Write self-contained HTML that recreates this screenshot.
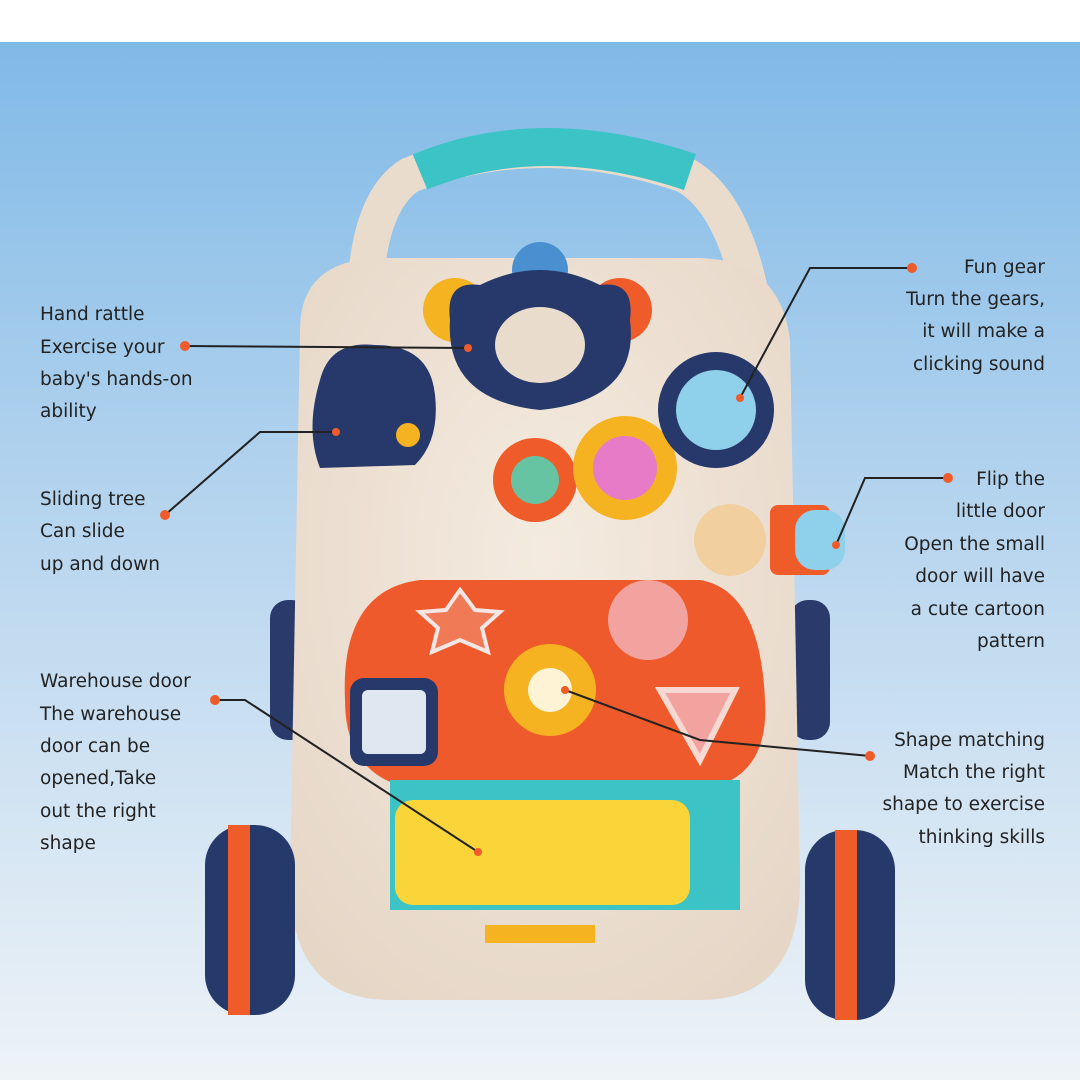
<!DOCTYPE html>
<html><head><meta charset="utf-8"><style>
html,body{margin:0;padding:0}
body{width:1080px;height:1080px;overflow:hidden;font-family:"DejaVu Sans",sans-serif}
</style></head><body>
<svg width="1080" height="1080" viewBox="0 0 1080 1080" xmlns="http://www.w3.org/2000/svg">
<defs>
<linearGradient id="bg" x1="0" y1="0" x2="0" y2="1">
<stop offset="0" stop-color="#7bb7e6"/><stop offset="0.45" stop-color="#b3d3ee"/><stop offset="1" stop-color="#eef3f7"/>
</linearGradient>
<radialGradient id="body" cx="0.5" cy="0.4" r="0.7"><stop offset="0" stop-color="#f4ebe0"/><stop offset="1" stop-color="#e6d6c6"/></radialGradient>
</defs>
<rect width="1080" height="1080" fill="url(#bg)"/>
<rect width="1080" height="42" fill="#fff"/>
<!-- handle -->
<path d="M365 290 Q370 200 410 175 Q540 125 685 175 Q730 200 750 290" fill="none" stroke="#eadccd" stroke-width="36"/>
<path d="M420 172 Q540 122 690 172" fill="none" stroke="#3cc3c6" stroke-width="38"/>
<!-- back wheels -->
<rect x="270" y="600" width="40" height="140" rx="18" fill="#2a3a6a"/>
<rect x="790" y="600" width="40" height="140" rx="18" fill="#2a3a6a"/>
<!-- body -->
<path d="M300 330 Q300 260 380 258 L700 258 Q780 260 790 340 L800 880 Q800 1000 700 1000 L390 1000 Q290 1000 290 880 Z" fill="url(#body)"/>
<!-- front wheels -->
<rect x="205" y="825" width="90" height="190" rx="40" fill="#25396b"/>
<rect x="228" y="825" width="22" height="190" fill="#f05b2a"/>
<rect x="805" y="830" width="90" height="190" rx="40" fill="#25396b"/>
<rect x="835" y="830" width="22" height="190" fill="#f05b2a"/>
<!-- top toys -->
<circle cx="455" cy="310" r="32" fill="#f5b321"/>
<circle cx="620" cy="310" r="32" fill="#f05b2a"/>
<circle cx="540" cy="270" r="28" fill="#4a8fcf"/>
<path d="M450 320 Q445 280 480 285 Q540 255 600 285 Q635 280 630 320 Q640 400 540 410 Q445 400 450 320Z" fill="#26396a"/>
<ellipse cx="540" cy="345" rx="45" ry="38" fill="#e9dccd"/>
<!-- tree -->
<path d="M320 380 Q330 340 375 345 Q430 345 435 395 Q440 440 415 465 L320 468 Q305 430 320 380Z" fill="#26396a"/>
<circle cx="408" cy="435" r="12" fill="#f5b321"/>
<!-- gears -->
<circle cx="535" cy="480" r="42" fill="#f05b2a"/>
<circle cx="535" cy="480" r="24" fill="#66c4a2"/>
<circle cx="625" cy="468" r="52" fill="#f5b321"/>
<circle cx="625" cy="468" r="32" fill="#e87bc8"/>
<circle cx="716" cy="410" r="58" fill="#26396a"/>
<circle cx="716" cy="410" r="40" fill="#8fd0ea"/>
<!-- bear & door -->
<circle cx="730" cy="540" r="36" fill="#f1cf9f"/>
<rect x="770" y="505" width="60" height="70" rx="8" fill="#f05b2a"/>
<rect x="795" y="510" width="50" height="60" rx="20" fill="#8fd0ea"/>
<!-- orange panel -->
<path d="M345 700 Q340 590 420 580 L700 580 Q760 590 765 700 Q770 780 700 790 L420 790 Q345 780 345 700Z" fill="#ee5a2b"/>
<path d="M460 590 L475 610 L500 612 L482 628 L488 652 L460 640 L432 652 L438 628 L420 612 L446 610Z" fill="#f07a55" stroke="#f5e6e6" stroke-width="4"/>
<circle cx="648" cy="620" r="40" fill="#f2a3a0"/>
<rect x="350" y="678" width="88" height="88" rx="14" fill="#26396a"/>
<rect x="362" y="690" width="64" height="64" rx="6" fill="#dfe7f1"/>
<circle cx="550" cy="690" r="46" fill="#f5b321"/>
<circle cx="550" cy="690" r="22" fill="#fff3d6"/>
<path d="M660 690 L735 690 L700 760 Z" fill="#f2a3a0" stroke="#f5d9d2" stroke-width="6"/>
<!-- teal drawer -->
<path d="M390 780 L740 780 L740 910 L390 910Z" fill="#3cc3c6"/>
<rect x="395" y="800" width="295" height="105" rx="18" fill="#f9d53a"/>
<rect x="485" y="925" width="110" height="18" fill="#f5b321"/>
<!-- connectors -->
<g stroke="#222" stroke-width="2" fill="none">
<polyline points="185,346 468,348"/>
<polyline points="165,515 260,432 336,432"/>
<polyline points="215,700 245,700 478,852"/>
<polyline points="912,268 810,268 740,398"/>
<polyline points="948,478 865,478 836,545"/>
<polyline points="870,756 700,740 565,690"/>
</g>
<g fill="#f05b2a">
<circle cx="185" cy="346" r="5"/><circle cx="468" cy="348" r="4"/>
<circle cx="165" cy="515" r="5"/><circle cx="336" cy="432" r="4"/>
<circle cx="215" cy="700" r="5"/><circle cx="478" cy="852" r="4"/>
<circle cx="912" cy="268" r="5"/><circle cx="740" cy="398" r="4"/>
<circle cx="948" cy="478" r="5"/><circle cx="836" cy="545" r="4"/>
<circle cx="870" cy="756" r="5"/><circle cx="565" cy="690" r="4"/>
</g>
<g font-family="DejaVu Sans, sans-serif" font-size="18.5" fill="#222">
<text x="40" y="320">Hand rattle</text>
<text x="40" y="353">Exercise your</text>
<text x="40" y="385">baby's hands-on</text>
<text x="40" y="417">ability</text>
<text x="40" y="505">Sliding tree</text>
<text x="40" y="537">Can slide</text>
<text x="40" y="570">up and down</text>
<text x="40" y="687">Warehouse door</text>
<text x="40" y="720">The warehouse</text>
<text x="40" y="752">door can be</text>
<text x="40" y="784">opened,Take</text>
<text x="40" y="817">out the right</text>
<text x="40" y="849">shape</text>
<g text-anchor="end">
<text x="1045" y="273">Fun gear</text>
<text x="1045" y="305">Turn the gears,</text>
<text x="1045" y="337">it will make a</text>
<text x="1045" y="370">clicking sound</text>
<text x="1045" y="485">Flip the</text>
<text x="1045" y="517">little door</text>
<text x="1045" y="550">Open the small</text>
<text x="1045" y="582">door will have</text>
<text x="1045" y="615">a cute cartoon</text>
<text x="1045" y="647">pattern</text>
<text x="1045" y="746">Shape matching</text>
<text x="1045" y="778">Match the right</text>
<text x="1045" y="810">shape to exercise</text>
<text x="1045" y="843">thinking skills</text>
</g>
</g>
</svg>
</body></html>
